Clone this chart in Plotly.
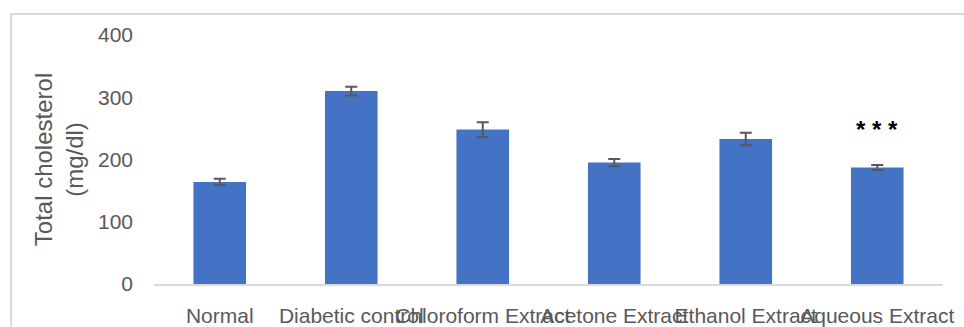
import plotly.graph_objects as go

categories = ["Normal", "Diabetic control", "Chloroform Extract", "Acetone Extract", "Ethanol Extract", "Aqueous Extract"]
means = [164, 310, 248, 195, 233, 187]
errors = [5, 7, 12, 6, 10, 4]
significance = ["", "", "", "", "", "* * *"]
y_ticks = [0, 100, 200, 300, 400]

GRAY = "#595959"
FONT = "Liberation Sans, Arial, sans-serif"

fig = go.Figure()
fig.add_trace(go.Bar(
    x=categories, y=means,
    marker=dict(color="#4472C4", line=dict(width=0)),
    error_y=dict(type="data", array=errors, visible=True, color="#595959", thickness=2, width=6),
    width=0.4,
))

for c, m, e, s in zip(categories, means, errors, significance):
    if s:
        fig.add_annotation(x=c, y=m + 62, text="<b>" + s + "</b>", showarrow=False,
                           font=dict(size=24, color="#000000", family=FONT),
                           xanchor="center", yanchor="middle")

# outer frame
fig.add_shape(type="rect", xref="paper", yref="paper",
              x0=-0.1812, x1=1.05, y0=-0.25, y1=1.084,
              line=dict(color="#d9d9d9", width=2), fillcolor="rgba(0,0,0,0)", layer="below")

fig.update_layout(
    width=964, height=327,
    margin=dict(l=154, r=21, t=35, b=42.5),
    plot_bgcolor="white", paper_bgcolor="white",
    showlegend=False,
    font=dict(family=FONT, color=GRAY),
    xaxis=dict(
        automargin=False,
        tickangle=0, tickfont=dict(size=21, color=GRAY, family=FONT),
        showline=True, linecolor="#d9d9d9", linewidth=2,
        showgrid=False, ticks="", ticklabelstandoff=12,
    ),
    yaxis=dict(
        automargin=False,
        range=[0, 400], tickvals=y_ticks, tickfont=dict(size=21, color=GRAY, family=FONT),
        showgrid=False, zeroline=False, showline=False, ticks="",
        ticklabelstandoff=20,
        title=dict(text="Total cholesterol<br>(mg/dl)", font=dict(size=24, color=GRAY, family=FONT), standoff=7),
    ),
)

fig.write_html("out.html", config={"displayModeBar": False},
               post_script="document.body.style.margin='0';")
